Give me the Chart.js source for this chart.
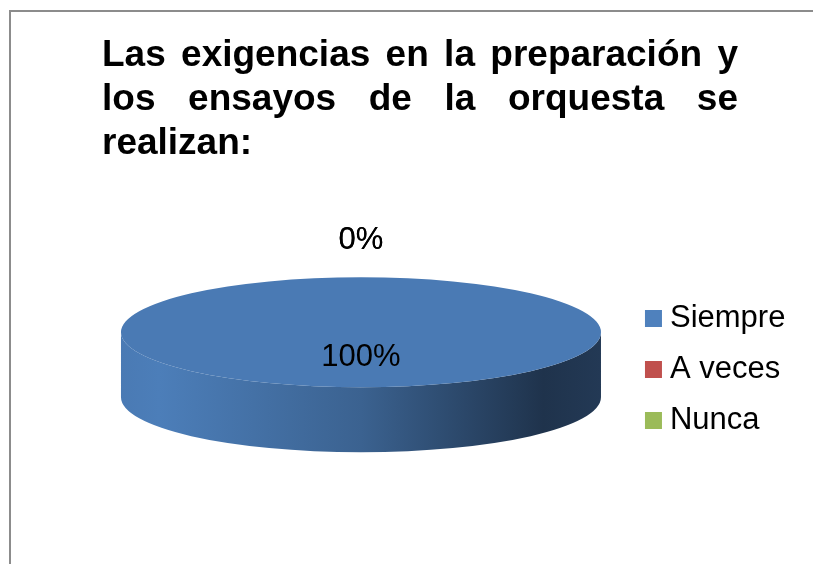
<!DOCTYPE html>
<html>
<head>
<meta charset="utf-8">
<script src="https://cdn.jsdelivr.net/npm/chart.js@4.4.1/dist/chart.umd.min.js"></script>
<style>
  html, body { margin: 0; padding: 0; background: #fff; }
  #wrap { position: relative; width: 813px; height: 564px; overflow: hidden; background: #fff; }
  #frame { position: absolute; left: 9px; top: 10px; width: 900px; height: 700px;
           border-left: 2px solid #8c8c8c; border-top: 2px solid #8c8c8c; }
  #c { position: absolute; left: 0; top: 0; }
  #title { position: absolute; left: 102px; top: 32px; width: 636px; color: #000;
           font: bold 37px/44px "Liberation Sans", Arial, sans-serif; text-align: justify; }
</style>
</head>
<body>
<div id="wrap">
  <div id="frame"></div>
  <canvas id="c" width="813" height="564"></canvas>
  <div id="title"></div>
</div>
<script>
// ---- data ----
const titleText = 'Las exigencias en la preparación y los ensayos de la orquesta se realizan:';
const categories = ['Siempre', 'A veces', 'Nunca'];
const values = [100, 0, 0];
const sliceColors = ['#4a7ab4', '#c0504d', '#9bbb59'];
const legendColors = ['#4f81bd', '#c0504d', '#9bbb59'];

// ---- style constants ----
const TILT = 55 / 240;     // vertical squash of the 3D pie
const DEPTH = 65;          // thickness of the 3D pie side
const SIDE_SHADE = [[0, 1.0], [0.08, 1.03], [0.5, 0.8], [0.88, 0.42], [1, 0.47]];
const FONT_FAMILY = '"Liberation Sans", Arial, sans-serif';

document.getElementById('title').textContent = titleText;

function shade(hex, f) {
  const n = parseInt(hex.slice(1), 16);
  const r = Math.min(255, Math.round(((n >> 16) & 255) * f));
  const g = Math.min(255, Math.round(((n >> 8) & 255) * f));
  const b = Math.min(255, Math.round((n & 255) * f));
  return `rgb(${r},${g},${b})`;
}

const tiltPlugin = {
  id: 'tilt3d',
  beforeDatasetsDraw(chart) {
    const ctx = chart.ctx;
    const meta = chart.getDatasetMeta(0);
    const a0 = meta.data[0];
    const cx = a0.x, cy = a0.y, r = a0.outerRadius, ry = r * TILT;
    ctx.save();
    // side walls (front half only)
    meta.data.forEach((arc, i) => {
      const s = Math.max(arc.startAngle, 0);
      const e = Math.min(arc.endAngle, Math.PI);
      if (e <= s) return;
      const g = ctx.createLinearGradient(cx - r, 0, cx + r, 0);
      SIDE_SHADE.forEach(([p, f]) => g.addColorStop(p, shade(sliceColors[i], f)));
      ctx.beginPath();
      ctx.ellipse(cx, cy, r, ry, 0, s, e, false);
      ctx.ellipse(cx, cy + DEPTH, r, ry, 0, e, s, true);
      ctx.closePath();
      ctx.fillStyle = g;
      ctx.fill();
    });
    // squash the top face
    ctx.translate(cx, cy);
    ctx.scale(1, TILT);
    ctx.translate(-cx, -cy);
  },
  afterDatasetsDraw(chart) {
    const ctx = chart.ctx;
    ctx.restore();
    const meta = chart.getDatasetMeta(0);
    const total = values.reduce((a, b) => a + b, 0);
    ctx.save();
    ctx.font = '31px ' + FONT_FAMILY;
    ctx.fillStyle = '#000';
    ctx.textAlign = 'center';
    ctx.textBaseline = 'alphabetic';
    const capHalf = 11;
    meta.data.forEach((arc, i) => {
      const cx = arc.x, cy = arc.y, r = arc.outerRadius, ry = r * TILT;
      const frac = values[i] / total;
      const txt = Math.round(frac * 100) + '%';
      const mid = (arc.startAngle + arc.endAngle) / 2;
      let lx, ly;
      if (frac >= 0.999) {
        lx = cx; ly = cy + 23 + capHalf;
      } else if (frac === 0) {
        lx = cx + Math.cos(mid) * (r + 39);
        ly = cy + Math.sin(mid) * (ry + 39) + capHalf;
      } else {
        lx = cx + Math.cos(mid) * r * 0.55;
        ly = cy + Math.sin(mid) * ry * 0.55 + capHalf;
      }
      ctx.fillText(txt, lx, ly);
    });
    ctx.restore();
  }
};

new Chart(document.getElementById('c'), {
  type: 'pie',
  data: {
    labels: categories,
    datasets: [{
      data: values,
      backgroundColor: sliceColors,
      borderWidth: 0,
      radius: 240
    }]
  },
  options: {
    responsive: false,
    animation: false,
    devicePixelRatio: 1,
    events: [],
    layout: { padding: { left: 89.5, right: 17.6, top: 208.5, bottom: 108 } },
    plugins: {
      title: { display: false },
      tooltip: { enabled: false },
      legend: {
        position: 'right',
        align: 'end',
        labels: {
          usePointStyle: true,
          pointStyle: 'rect',
          boxWidth: 2,
          boxHeight: 17,
          padding: 20,
          color: '#000',
          font: { family: FONT_FAMILY, size: 31 },
          generateLabels(chart) {
            return chart.data.labels.map((lab, i) => ({
              text: lab,
              fillStyle: legendColors[i],
              strokeStyle: legendColors[i],
              lineWidth: 0,
              pointStyle: 'rect',
              hidden: false,
              index: i,
              fontColor: '#000'
            }));
          }
        }
      }
    }
  },
  plugins: [tiltPlugin]
});
</script>
</body>
</html>
